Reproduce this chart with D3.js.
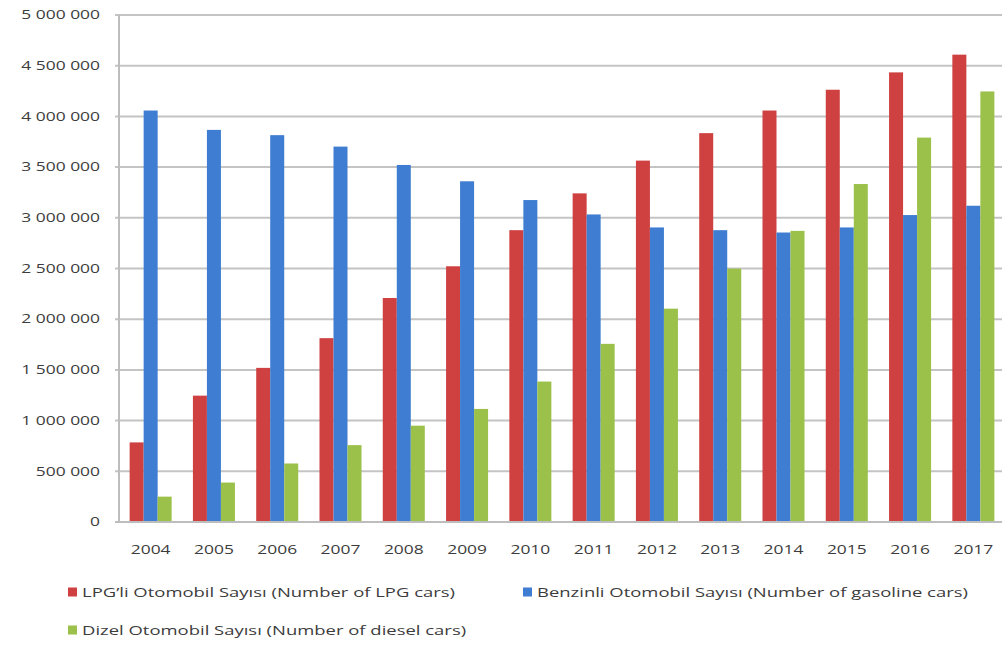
<!DOCTYPE html>
<html>
<head>
<meta charset="utf-8">
<script src="https://cdn.jsdelivr.net/npm/d3@7"></script>
<style>
  html, body { margin: 0; padding: 0; background: #ffffff; }
  svg { display: block; }
  text { font-family: "Open Sans", "DejaVu Sans", sans-serif; fill: #3c3c3c; }
</style>
</head>
<body>
<svg id="chart" width="1002" height="646"></svg>
<script>
const years = ["2004","2005","2006","2007","2008","2009","2010","2011","2012","2013","2014","2015","2016","2017"];
const lpgCars      = [785000,1246000,1520000,1813000,2209000,2522000,2878000,3241000,3564000,3835000,4058000,4263000,4434000,4609000];
const gasolineCars = [4058000,3867000,3815000,3702000,3521000,3360000,3175000,3033000,2905000,2878000,2855000,2905000,3027000,3119000];
const dieselCars   = [250000,389000,577000,758000,950000,1115000,1385000,1757000,2104000,2499000,2871000,3333000,3791000,4246000];
const yTicks = [0,500000,1000000,1500000,2000000,2500000,3000000,3500000,4000000,4500000,5000000];
const seriesNames = [
  "LPG\u2019li Otomobil Sayısı (Number of LPG cars)",
  "Benzinli Otomobil Sayısı (Number of gasoline cars)",
  "Dizel Otomobil Sayısı (Number of diesel cars)"
];
const seriesKeys = ["lpg","gasoline","diesel"];
const colors = ["#cf4141","#3e7dd1","#9bc14a"];

const table = years.map((yr,i) => ({year:yr, lpg:lpgCars[i], gasoline:gasolineCars[i], diesel:dieselCars[i]}));

const svg = d3.select("#chart");
const plotLeft = 119, plotRight = 1005, plotTop = 15, plotBottom = 522;

const x = d3.scaleBand().domain(years).range([plotLeft, plotRight]).paddingInner(0.336).paddingOuter(0.168);
const xs = d3.scaleBand().domain(seriesKeys).range([0, x.bandwidth()]);
const y = d3.scaleLinear().domain([0, 5000000]).range([plotBottom, plotTop]);

const fmt = d3.formatLocale({decimal:",", thousands:" ", grouping:[3], currency:["",""]}).format(",");

// gridlines
svg.append("g")
  .selectAll("line").data(yTicks.filter(d => d > 0)).join("line")
  .attr("x1", plotLeft - 4).attr("x2", plotRight)
  .attr("y1", d => y(d)).attr("y2", d => y(d))
  .attr("stroke", "#c4c4c4").attr("stroke-width", 2);

// bars
svg.append("g").selectAll("g").data(table).join("g")
  .attr("transform", d => `translate(${x(d.year)},0)`)
  .selectAll("rect").data(d => seriesKeys.map((k,j) => ({k, v:d[k], j}))).join("rect")
  .attr("x", d => xs(d.k)).attr("width", xs.bandwidth())
  .attr("y", d => y(d.v)).attr("height", d => y(0) - y(d.v))
  .attr("fill", d => colors[d.j]);

// axes lines
svg.append("line").attr("x1", plotLeft).attr("x2", plotLeft).attr("y1", plotTop).attr("y2", plotBottom)
  .attr("stroke", "#bdbdbd").attr("stroke-width", 2);
svg.append("line").attr("x1", plotLeft - 4).attr("x2", plotRight).attr("y1", plotBottom).attr("y2", plotBottom)
  .attr("stroke", "#bdbdbd").attr("stroke-width", 2);

// y labels
svg.append("g").selectAll("text").data(yTicks).join("text")
  .attr("transform", d => `translate(100,${y(d)}) scale(1.45,1)`)
  .attr("text-anchor", "end").attr("dy", "0.35em")
  .style("font-size", "12px")
  .text(d => fmt(d));

// x labels
svg.append("g").selectAll("text").data(years).join("text")
  .attr("transform", d => `translate(${x(d) + x.bandwidth()/2},550) scale(1.45,1)`)
  .attr("text-anchor", "middle").attr("dy", "0.35em")
  .style("font-size", "12px")
  .text(d => d);

// legend
const legendPos = [[68, 592],[523, 592],[68, 630]];
const lg = svg.append("g").selectAll("g").data(seriesNames).join("g")
  .attr("transform", (d,i) => `translate(${legendPos[i][0]},${legendPos[i][1]})`);
lg.append("rect").attr("x", 0).attr("y", -4.5).attr("width", 9).attr("height", 9)
  .attr("fill", (d,i) => colors[i]);
lg.append("text").attr("transform", "translate(14,0) scale(1.42,1)")
  .attr("dy", "0.35em").style("font-size", "13px")
  .text(d => d);
</script>
</body>
</html>
